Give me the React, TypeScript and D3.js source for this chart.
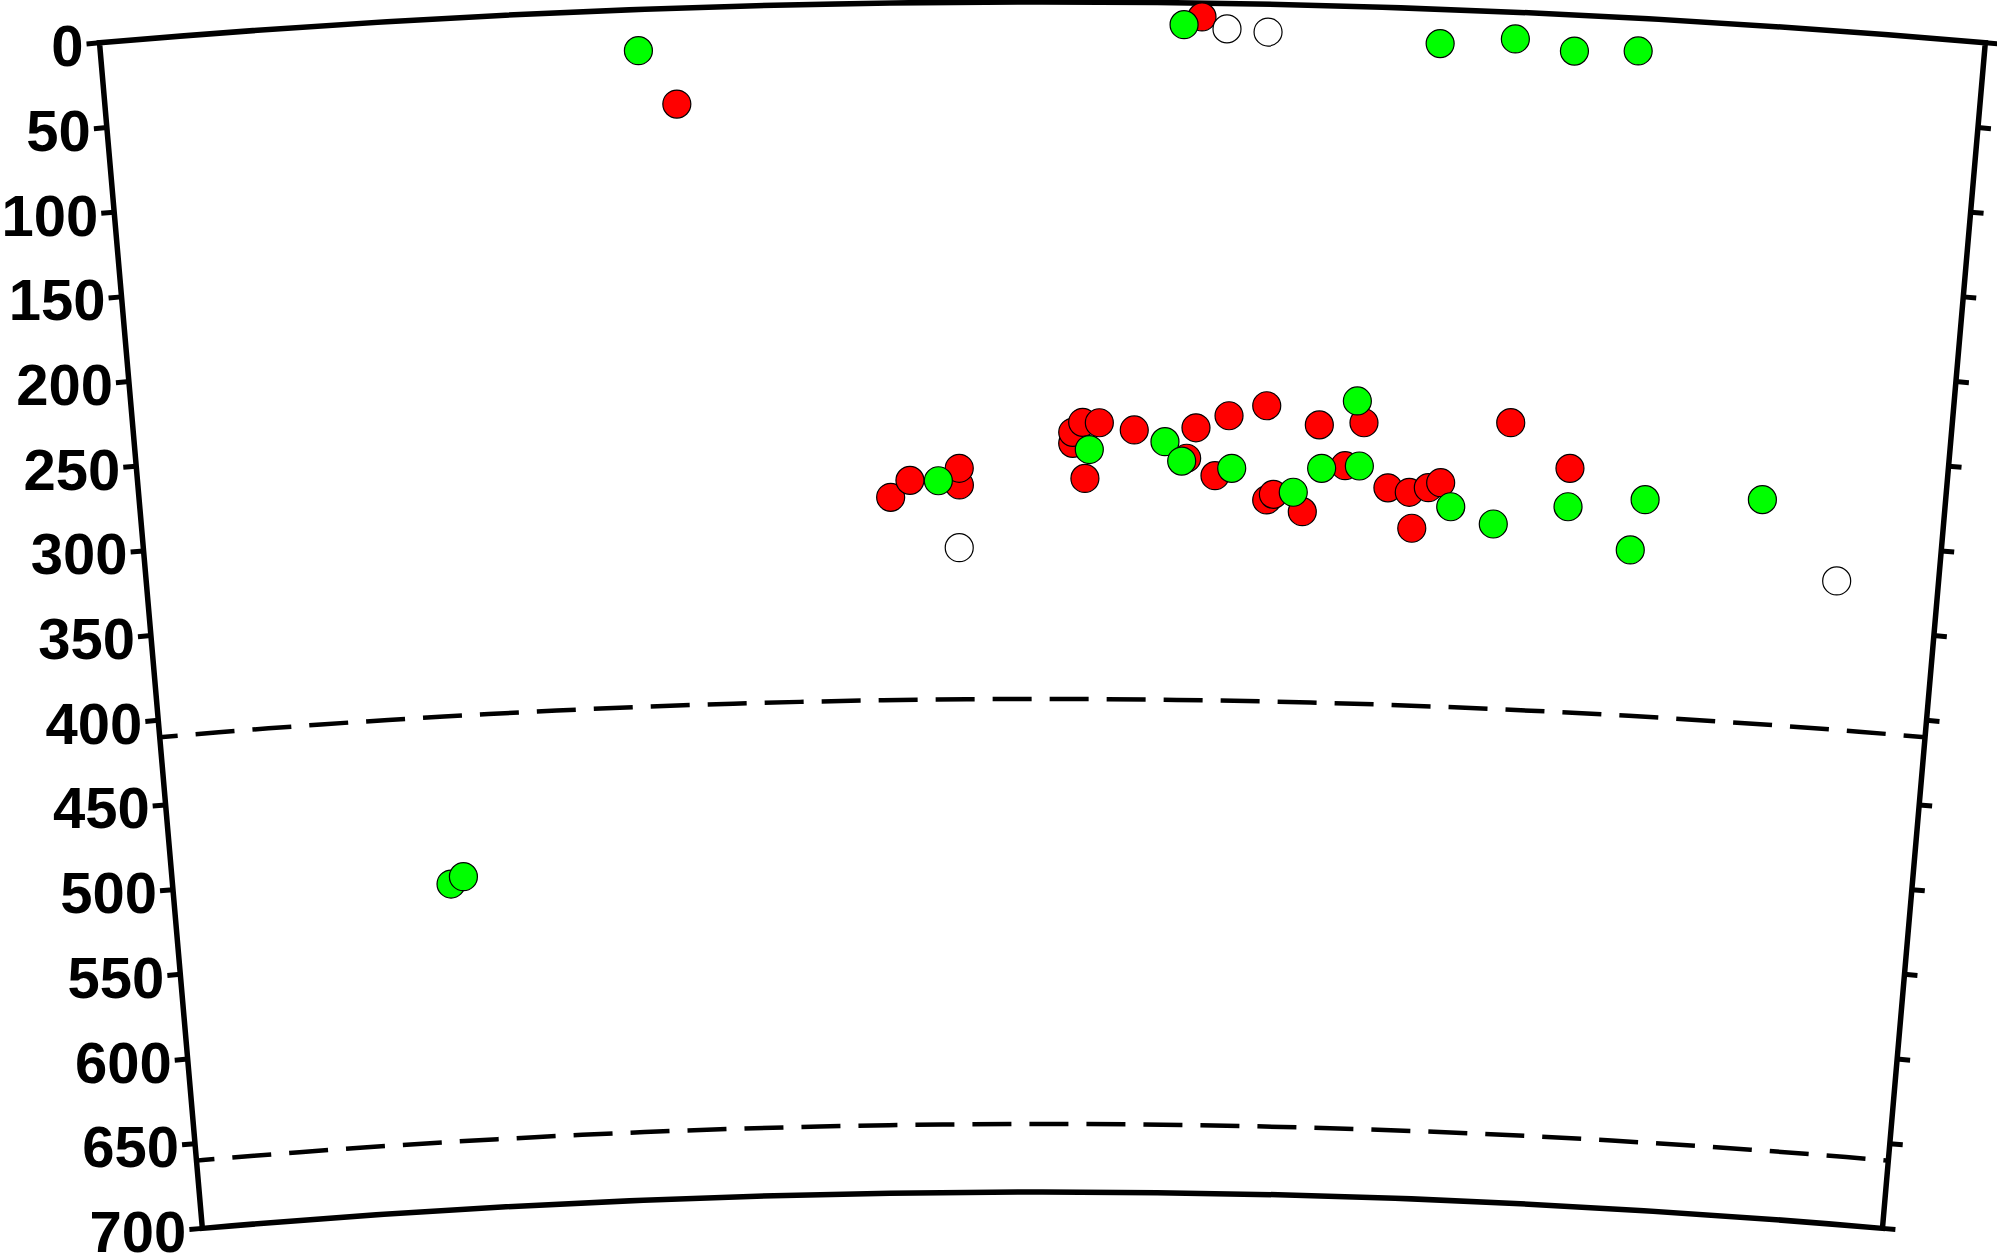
import * as React from 'react';
import * as d3 from 'd3';

// depth section, distance along profile (km) vs depth (km)
const depthTicks = d3.range(0, 701, 50);
const discontinuities = [410, 660];

const redQuakes: [number, number][] = [
  [335.1, 56.4], [643.1, 8.1], [457.4, 290.7], [469.3, 280.9], [499.4, 283.9],
  [499.4, 274.1], [568.4, 259.6], [568.4, 253.1], [574.4, 247.2], [584.5, 247.4],
  [575.9, 280.2], [605.7, 251.5], [637.7, 267.8], [643.1, 249.8], [663.0, 242.4],
  [685.7, 236.1], [655.1, 277.8], [717.8, 246.6], [744.8, 244.6], [686.9, 291.5],
  [690.9, 288.1], [708.8, 297.9], [734.1, 270.2], [760.6, 282.4], [773.7, 284.6],
  [785.2, 281.5], [792.6, 278.3], [776.0, 305.7], [833.6, 241.3], [870.8, 266.5],
];

const greenQuakes: [number, number][] = [
  [313.7, 24.2], [632.7, 12.8], [782.5, 20.2], [826.3, 15.7], [861.1, 21.2],
  [898.3, 19.2], [175.6, 508.6], [183.7, 504.7], [486.6, 281.3], [578.5, 263.2],
  [624.4, 258.2], [634.7, 269.5], [665.2, 273.3], [740.4, 231.9], [703.0, 286.6],
  [719.9, 272.1], [742.8, 270.1], [799.3, 292.2], [825.7, 301.3], [870.8, 289.1],
  [917.5, 282.5], [910.2, 312.5], [988.8, 278.1],
];

const whiteQuakes: [number, number][] = [
  [657.8, 14.9], [681.8, 16.3], [499.0, 320.8], [1037.7, 322.6],
];

const width = 1997;
const height = 1255;
const cx = 1042.4;
const cy = 10910;
const outerR = 10908;
const halfAngle = 0.08655;
const tickLen = 13;

const App = () => {
  const angle = d3.scaleLinear().domain([0, 1100]).range([-halfAngle, halfAngle]);
  const radius = d3.scaleLinear().domain([0, 700]).range([outerR, outerR - 1190]);

  const pos = (dist: number, depth: number) => {
    const a = angle(dist);
    const r = radius(depth);
    return [cx + r * Math.sin(a), cy - r * Math.cos(a)];
  };

  const frame = d3.arc()({
    innerRadius: radius(700),
    outerRadius: radius(0),
    startAngle: angle(0),
    endAngle: angle(1100),
  } as any) as string;

  const arcLine = (depth: number) => {
    const p = d3.path();
    p.arc(cx, cy, radius(depth), -Math.PI / 2 + angle(0), -Math.PI / 2 + angle(1100));
    return p.toString();
  };

  const ca = Math.cos(halfAngle);
  const sa = Math.sin(halfAngle);

  const dots = (data: [number, number][], fill: string, key: string) =>
    data.map((d, i) => {
      const [x, y] = pos(d[0], d[1]);
      return <circle key={key + i} cx={x} cy={y} r={14} fill={fill} stroke='black' strokeWidth={1.2} />;
    });

  return (
    <svg
      width={width}
      height={height}
      style={{ position: 'absolute', left: 0, top: 0, background: 'white' }}
      fontFamily='Liberation Sans, Arial, Helvetica, sans-serif'>
      {discontinuities.map((d) => (
        <path
          key={d}
          d={arcLine(d)}
          fill='none'
          stroke='black'
          strokeWidth={4.5}
          strokeDasharray='39 18'
          strokeDashoffset={21}
        />
      ))}
      <path
        d={frame}
        transform={`translate(${cx},${cy})`}
        fill='none'
        stroke='black'
        strokeWidth={5.5}
        strokeLinejoin='miter'
      />
      {depthTicks.map((d) => {
        const [lx, ly] = pos(0, d);
        const [rx, ry] = pos(1100, d);
        const lx2 = lx - tickLen * ca;
        const ly2 = ly + tickLen * sa;
        return (
          <g key={d}>
            <line x1={lx} y1={ly} x2={lx2} y2={ly2} stroke='black' strokeWidth={5} />
            <line x1={rx} y1={ry} x2={rx + tickLen * ca} y2={ry + tickLen * sa} stroke='black' strokeWidth={5} />
            <text x={lx2 - 3} y={ly + 23.5} textAnchor='end' fontSize={58} fontWeight='bold' fill='black'>
              {d}
            </text>
          </g>
        );
      })}
      {dots(redQuakes, '#ff0000', 'r')}
      {dots(greenQuakes, '#00ff00', 'g')}
      {dots(whiteQuakes, 'white', 'w')}
    </svg>
  );
};

export default App;
